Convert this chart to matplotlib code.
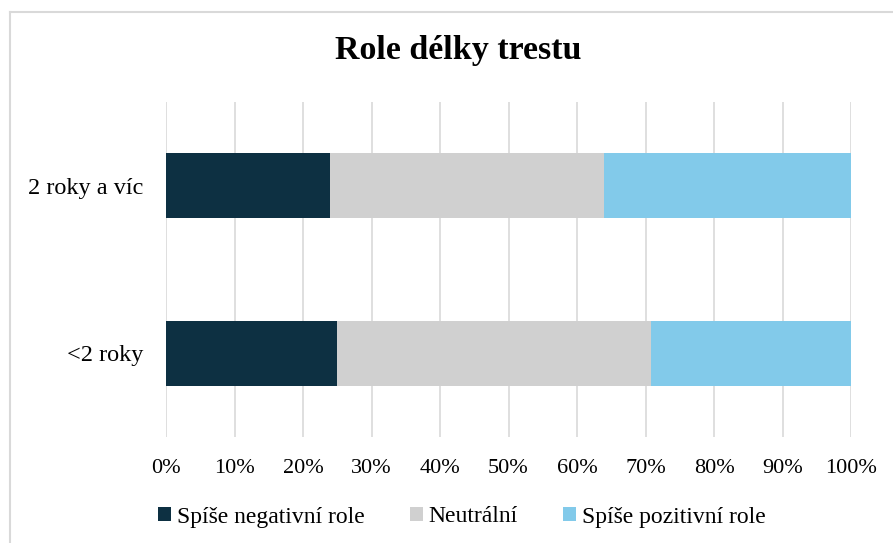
import numpy as np
import matplotlib as mpl
mpl.use("Agg")
import matplotlib.pyplot as plt
from matplotlib.lines import Line2D

# data (shares in %)
categories = ['<2 roky', '2 roky a víc']
negativni = [25.0, 23.9]
neutralni = [45.8, 40.0]
pozitivni = [29.2, 36.1]
series_names = ['Spíše negativní role', 'Neutrální', 'Spíše pozitivní role']
colors = ['#0D3042', '#D0D0D0', '#82CAEA']

plt.rcParams['font.family'] = ['Liberation Serif', 'DejaVu Serif']

fig = plt.figure(figsize=(8.93, 5.43), dpi=100)
ax = fig.add_axes([166/893, 1-437/543, (851-166)/893, (437-102)/543])

y = np.arange(len(categories))
left = np.zeros(len(categories))
for vals, name, c in zip([negativni, neutralni, pozitivni], series_names, colors):
    ax.barh(y, vals, left=left, height=0.39, color=c, label=name, zorder=2)
    left += np.array(vals)

ax.set_xlim(0, 100)
ax.set_ylim(-0.5, 1.5)
ax.set_xticks(np.arange(0, 101, 10))
ax.set_xticklabels([f'{v}%' for v in range(0, 101, 10)], fontsize=16)
ax.set_yticks(y)
ax.set_yticklabels(categories, fontsize=17.5)
ax.tick_params(axis='both', length=0)
ax.tick_params(axis='x', pad=15.5)
ax.tick_params(axis='y', pad=16.5)
ax.xaxis.grid(True, color='#D9D9D9', linewidth=1.2, zorder=0)
ax.set_axisbelow(True)
for s in ax.spines.values():
    s.set_visible(False)

fig.text(458/893, 1-51/543, 'Role délky trestu', ha='center', va='center',
         fontsize=24.5, fontweight='bold')

fig.legend(loc='center', bbox_to_anchor=(462/893, 1-517/543), ncol=3,
           frameon=False, fontsize=17, handlelength=0.55, handleheight=0.55,
           handletextpad=0.25, columnspacing=1.9)

# light outer frame (only left and top visible)
fig.add_artist(Line2D([10/893, 10/893], [0, 1-12/543], color='#D9D9D9', lw=1.5))
fig.add_artist(Line2D([10/893, 1], [1-12/543, 1-12/543], color='#D9D9D9', lw=1.5))

plt.savefig('out.png', dpi=100)
